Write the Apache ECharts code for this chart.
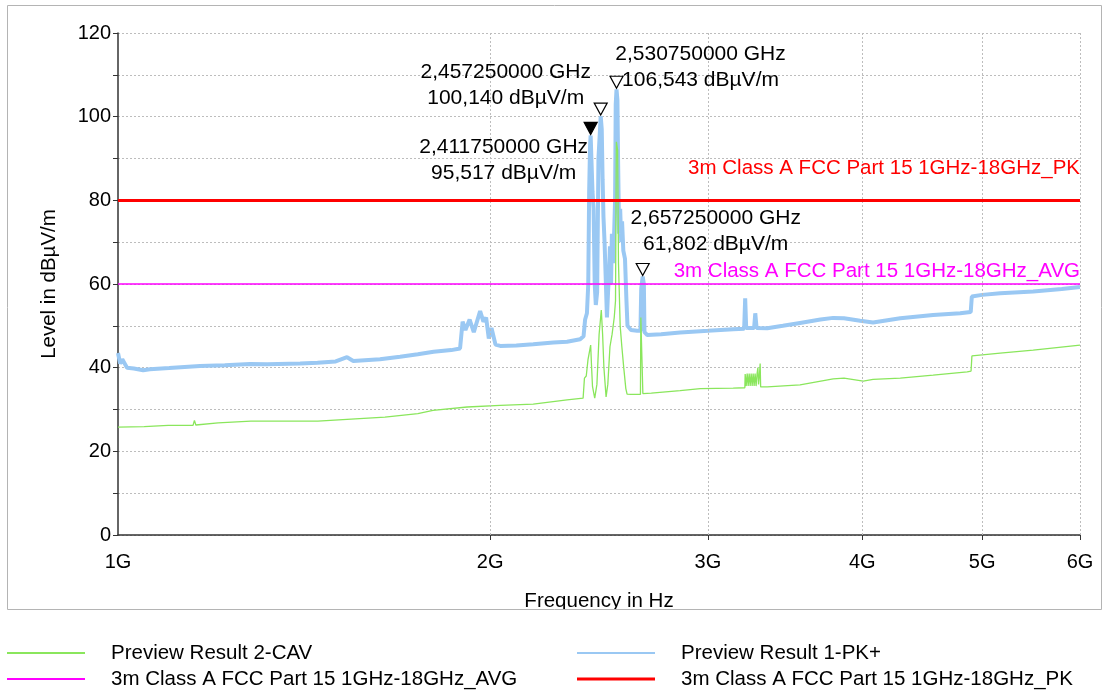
<!DOCTYPE html>
<html><head><meta charset="utf-8">
<script src="https://cdn.jsdelivr.net/npm/echarts@6/dist/echarts.min.js"></script>
<style>html,body{margin:0;padding:0;background:#fff}#c{width:1104px;height:693px}</style>
</head><body><div id="c"></div>
<script>
// ---- data (frequency in GHz, level in dBµV/m) ----
const xTickValues = [1, 2, 3, 4, 5, 6];
const yRange = [0, 120];

const pkTrace = [
  [1.000,43.5],[1.004,41],[1.008,42],[1.017,40],[1.030,39.8],[1.048,39.4],[1.061,39.6],[1.100,39.9],
  [1.165,40.4],[1.220,40.6],[1.279,40.9],[1.320,40.8],[1.404,41.0],[1.450,41.2],[1.500,41.5],[1.532,42.5],
  [1.550,41.6],[1.629,42.0],[1.691,42.6],[1.748,43.2],[1.800,43.8],[1.860,44.2],[1.891,44.6],[1.896,44.8],
  [1.900,51],[1.910,49],[1.925,51.5],[1.940,48.5],[1.963,53.5],[1.975,51],[1.985,52],[1.995,47],
  [2.005,49.5],[2.020,45.5],[2.038,45.2],[2.100,45.3],[2.167,45.6],[2.250,46.0],[2.308,46.2],[2.365,46.8],
  [2.380,47.5],[2.387,51.5],[2.395,53],[2.401,60],[2.405,82],[2.409,93],[2.41175,95.5],[2.415,90],
  [2.420,82],[2.425,78],[2.430,60],[2.435,55],[2.441,58],[2.447,90],[2.45725,100.1],[2.462,97],
  [2.466,85],[2.470,76],[2.475,70],[2.480,62],[2.486,52],[2.491,58],[2.496,63],[2.500,69],
  [2.505,60],[2.509,72],[2.515,65],[2.520,73],[2.524,80],[2.527,103],[2.53075,106.5],[2.535,104],
  [2.538,90],[2.543,72],[2.548,78],[2.553,70],[2.557,75],[2.563,68],[2.571,66],[2.578,56],
  [2.583,50],[2.600,49],[2.630,48.8],[2.646,48.8],[2.650,59],[2.65725,61.8],[2.663,60],[2.666,48.5],
  [2.680,47.8],[2.750,48.0],[2.849,48.4],[2.958,48.7],[3.000,48.8],[3.145,49.2],[3.210,49.3],[3.216,56.6],
  [3.222,49.5],[3.270,49.5],[3.277,53],[3.285,49.5],[3.351,49.4],[3.450,50.0],[3.562,50.7],[3.700,51.5],
  [3.789,51.9],[3.866,51.8],[3.984,51.2],[4.081,50.8],[4.293,51.8],[4.564,52.6],[4.800,53.0],[4.895,53.3],
  [4.905,57.0],[5.000,57.4],[5.171,57.8],[5.499,58.2],[5.800,58.8],[6.000,59.3]
];

const cavTrace = [
  [1.000,25.8],[1.050,25.9],[1.098,26.2],[1.150,26.2],[1.153,27.4],[1.156,26.3],[1.205,26.8],[1.281,27.2],
  [1.365,27.2],[1.451,27.2],[1.544,27.7],[1.644,28.2],[1.748,29.0],[1.798,29.8],[1.916,30.6],[2.038,31.0],
  [2.167,31.3],[2.308,32.3],[2.378,32.7],[2.384,37.5],[2.392,38],[2.400,42],[2.41175,45.4],[2.416,40],
  [2.420,35.5],[2.430,32.7],[2.440,36],[2.450,48],[2.460,53.8],[2.466,48],[2.472,40],[2.482,33],
  [2.490,36],[2.500,45],[2.510,48],[2.520,52],[2.526,56],[2.530,94],[2.536,92],[2.540,65],
  [2.548,50],[2.556,45],[2.565,40],[2.575,35],[2.581,33.7],[2.600,33.6],[2.646,33.6],[2.648,52],
  [2.656,52],[2.658,33.8],[2.700,33.9],[2.849,34.5],[2.958,35.0],[3.145,35.1],[3.214,35.2],[3.216,38.5],
  [3.222,35.6],[3.228,38.6],[3.234,35.6],[3.240,38.6],[3.246,35.6],[3.252,38.6],[3.258,35.6],[3.264,38.6],
  [3.270,35.6],[3.276,38.6],[3.282,35.6],[3.288,38.5],[3.293,40],[3.297,36],[3.303,38.5],[3.307,41],
  [3.310,35.4],[3.351,35.4],[3.562,35.9],[3.789,37.3],[3.866,37.5],[4.007,36.8],[4.081,37.2],[4.293,37.5],
  [4.564,38.2],[4.863,39.0],[4.898,39.2],[4.906,42.8],[5.171,43.5],[5.499,44.2],[6.000,45.4]
];

const limitNames = ['3m Class A FCC Part 15 1GHz-18GHz_AVG', '3m Class A FCC Part 15 1GHz-18GHz_PK'];
const limitLevels = [60, 80];

const markerFreqs = [2.41175, 2.45725, 2.53075, 2.65725];
const markerLevels = [95.517, 100.140, 106.543, 61.802];

// ---- styling ----
const FONT = 'Liberation Sans, Arial, sans-serif';
const C_CAV = '#8AE65C', C_PK = '#9AC8F3', C_AVG = '#FF00FF', C_LPK = '#FF0000';
const labelOffsets = [[-87, 25], [-95, -31], [84, -22], [73, -45]];

function fmt(v, d) { return v.toFixed(d).replace('.', ','); }

const chart = echarts.init(document.getElementById('c'), null, {renderer: 'canvas'});

function legendFor(name, left, top, h) {
  return {
    data: [name], left: left, top: top, padding: 0, icon: 'rect',
    itemWidth: 78, itemHeight: h, selectedMode: false,
    textStyle: {fontFamily: FONT, fontSize: 20.5, color: '#000', lineHeight: 24, padding: [0, 0, 0, 21]}
  };
}

chart.setOption({
  animation: false,
  textStyle: {fontFamily: FONT},
  grid: {left: 118, right: 24, top: 33, bottom: 158, containLabel: false, outerBoundsMode: 'none'},
  legend: [
    legendFor('Preview Result 2-CAV', 7, 641, 2),
    legendFor(limitNames[0], 7, 667, 2),
    legendFor('Preview Result 1-PK+', 577, 641, 2),
    legendFor(limitNames[1], 577, 667, 3)
  ],
  graphic: [
    {type: 'rect', z: 100, silent: true, shape: {x: 0, y: 609.5, width: 1104, height: 22}, style: {fill: '#fff'}},
    {type: 'rect', z: 101, silent: true, shape: {x: 7.5, y: 5.5, width: 1094, height: 604}, style: {fill: 'none', stroke: '#b4b4b4', lineWidth: 1}}
  ],
  xAxis: {
    type: 'log', logBase: 10, min: xTickValues[0], max: xTickValues[xTickValues.length - 1],
    name: 'Frequency in Hz', nameLocation: 'middle', nameGap: 56,
    nameTextStyle: {fontFamily: FONT, fontSize: 20.5, color: '#000'},
    axisLine: {onZero: false, lineStyle: {color: '#333', width: 1.5}},
    axisTick: {show: true, customValues: xTickValues.slice(1), length: 5, lineStyle: {color: '#333'}},
    axisLabel: {customValues: xTickValues, formatter: v => Math.round(v) + 'G', fontFamily: FONT, fontSize: 20, color: '#000', margin: 17},
    splitLine: {show: false}, minorTick: {show: false}, minorSplitLine: {show: false}
  },
  yAxis: {
    type: 'value', min: yRange[0], max: yRange[1], interval: 10,
    name: 'Level in dBµV/m', nameLocation: 'middle', nameGap: 58,
    nameTextStyle: {fontFamily: FONT, fontSize: 20.5, color: '#000'},
    axisLine: {show: true, lineStyle: {color: '#333', width: 1.5}},
    axisTick: {show: true, length: 5, lineStyle: {color: '#333'}},
    axisLabel: {formatter: v => (v % 20 === 0 ? String(v) : ''), fontFamily: FONT, fontSize: 20, color: '#000', margin: 7},
    splitLine: {show: true, lineStyle: {type: [2, 2], color: '#bdbdbd', width: 1}}
  },
  series: [
    {
      name: 'gridX', type: 'line', data: [], z: 1, silent: true,
      markLine: {
        silent: true, symbol: ['none', 'none'], label: {show: false},
        lineStyle: {type: [2, 2], color: '#bdbdbd', width: 1},
        data: xTickValues.slice(1).map(v => ({xAxis: v}))
      }
    },
    {
      name: 'Preview Result 1-PK+', type: 'line', data: pkTrace, showSymbol: false, z: 2,
      color: C_PK, lineStyle: {color: C_PK, width: 4}, itemStyle: {color: C_PK}
    },
    {
      name: 'Preview Result 2-CAV', type: 'line', data: cavTrace, showSymbol: false, z: 3,
      color: C_CAV, lineStyle: {color: C_CAV, width: 1.3}, itemStyle: {color: C_CAV}
    },
    {
      name: limitNames[0], type: 'line', data: [], z: 4, color: C_AVG, itemStyle: {color: C_AVG},
      markLine: {
        silent: true, symbol: ['none', 'none'],
        lineStyle: {color: C_AVG, width: 1.6, type: 'solid'},
        label: {show: true, position: 'insideEndTop', distance: [0, 2], formatter: limitNames[0], color: C_AVG, fontFamily: FONT, fontSize: 20.5},
        data: [{yAxis: limitLevels[0]}]
      }
    },
    {
      name: limitNames[1], type: 'line', data: [], z: 4, color: C_LPK, itemStyle: {color: C_LPK},
      markLine: {
        silent: true, symbol: ['none', 'none'],
        lineStyle: {color: C_LPK, width: 3, type: 'solid'},
        label: {show: true, position: 'insideEndTop', distance: [0, 21], formatter: limitNames[1], color: C_LPK, fontFamily: FONT, fontSize: 20.5},
        data: [{yAxis: limitLevels[1]}]
      }
    },
    {
      name: 'markers', type: 'scatter', z: 10, silent: true,
      symbol: 'triangle', symbolRotate: 180, symbolSize: [13, 12], symbolOffset: [0, -7],
      data: markerFreqs.map((f, i) => ({
        value: [f, markerLevels[i]],
        itemStyle: {color: i === 0 ? '#000' : '#fff', borderColor: '#000', borderWidth: 1.2, opacity: 1}
      }))
    },
    {
      name: 'markerLabels', type: 'scatter', z: 11, silent: true,
      symbol: 'circle', symbolSize: 1, itemStyle: {color: 'rgba(0,0,0,0)', opacity: 1},
      data: markerFreqs.map((f, i) => ({
        value: [f, markerLevels[i]],
        label: {
          show: true, position: 'inside', offset: labelOffsets[i],
          formatter: fmt(f, 9) + ' GHz\n' + fmt(markerLevels[i], 3) + ' dBµV/m',
          fontFamily: FONT, fontSize: 21, lineHeight: 26, color: '#000', align: 'center', verticalAlign: 'middle'
        }
      }))
    }
  ]
});
</script>
</body></html>
